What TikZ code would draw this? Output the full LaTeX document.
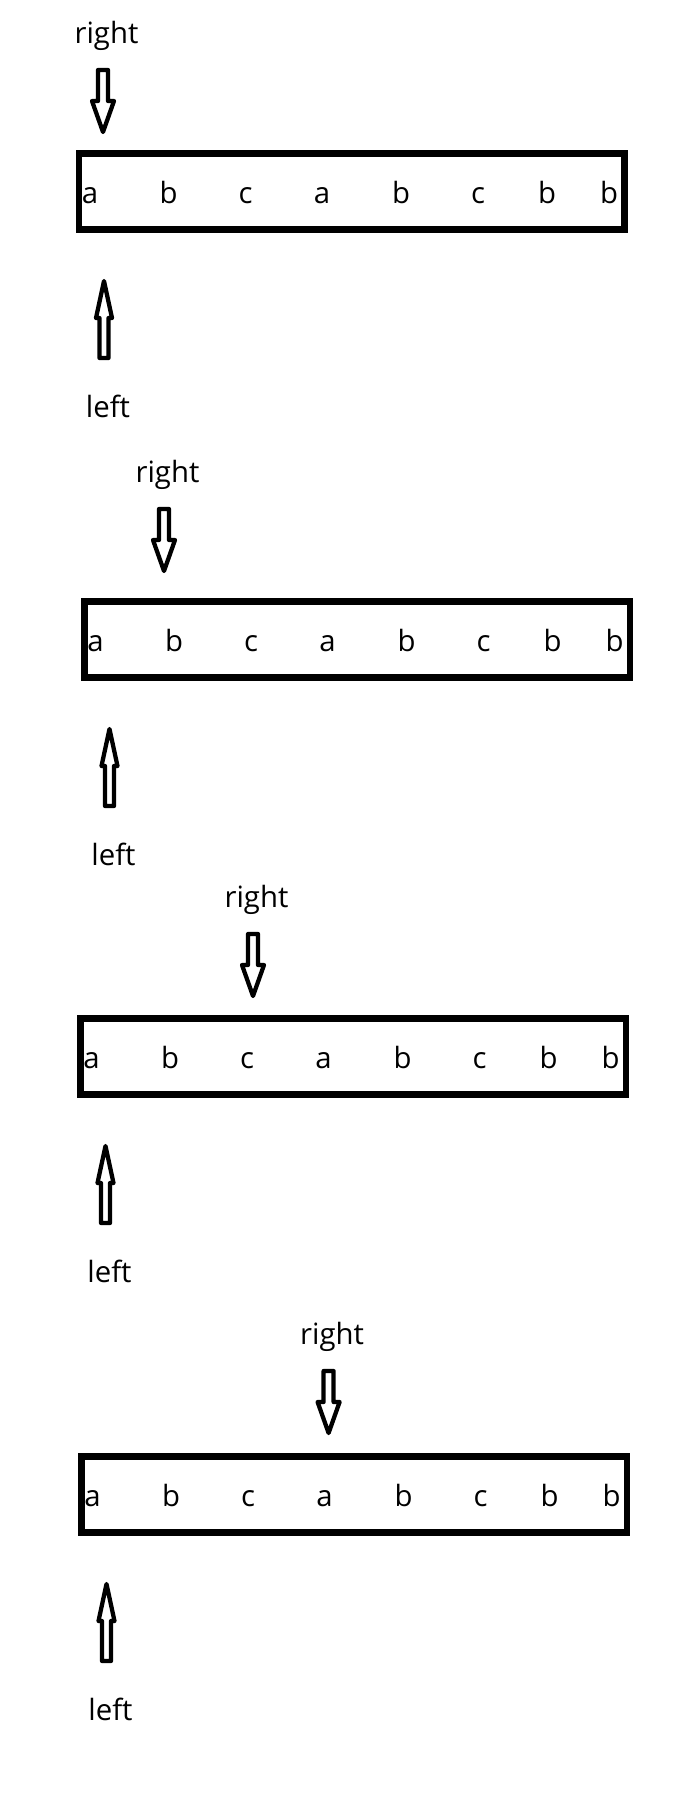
\documentclass[tikz,border=0pt]{standalone}
\usepackage{fontspec}
\setmainfont{Open Sans}
\begin{document}
\begin{tikzpicture}[x=0.75pt,y=-0.75pt,
  lbl/.style={anchor=base,inner sep=0pt,font=\fontsize{22}{26}\selectfont},
  strbox/.style={draw,line width=4.8pt},
  blockarrow/.style={draw,line width=3.2pt,line join=round,fill=white}]
\useasboundingbox[fill=white] (0,0) rectangle (698,1796);
\foreach \p/\dx/\dt/\db/\ax in {1/0/0/0/103, 2/5.5/439/448/164, 3/1.5/864/865/253, 4/2.5/1301/1303/328.6}{
  % string box
  \draw[strbox] (79+\dx,153.5+\db) coordinate (box\p-nw) rectangle (624.5+\dx,229.5+\db) coordinate (box\p-se);
  % characters
  \foreach \ch/\lx [count=\i] in {a/90,b/168.5,c/245.5,a/322,b/401,c/478,b/547,b/609}
    \node[lbl] (ch\p-\i) at (\lx+\dx,203.5+\db) {\ch};
  % right pointer
  \node[lbl] (right\p) at (\ax+3.5,43+\dt) {right};
  \draw[blockarrow] (\ax-5,70+\dt) -- (\ax+5,70+\dt) -- (\ax+5,101+\dt) -- (\ax+11,101+\dt)
     -- (\ax,132+\dt) coordinate (rtip\p) -- (\ax-11,101+\dt) -- (\ax-5,101+\dt) -- cycle;
  % left pointer
  \draw[blockarrow] (104+\dx-4.5,358+\db) -- (104+\dx+4.5,358+\db) -- (104+\dx+4.5,318+\db)
     -- (104+\dx+8,318+\db) -- (104+\dx,281+\db) coordinate (ltip\p) -- (104+\dx-8,318+\db)
     -- (104+\dx-4.5,318+\db) -- cycle;
  \node[lbl] (left\p) at (108+\dx,417+\db) {left};
}
\end{tikzpicture}
\end{document}
